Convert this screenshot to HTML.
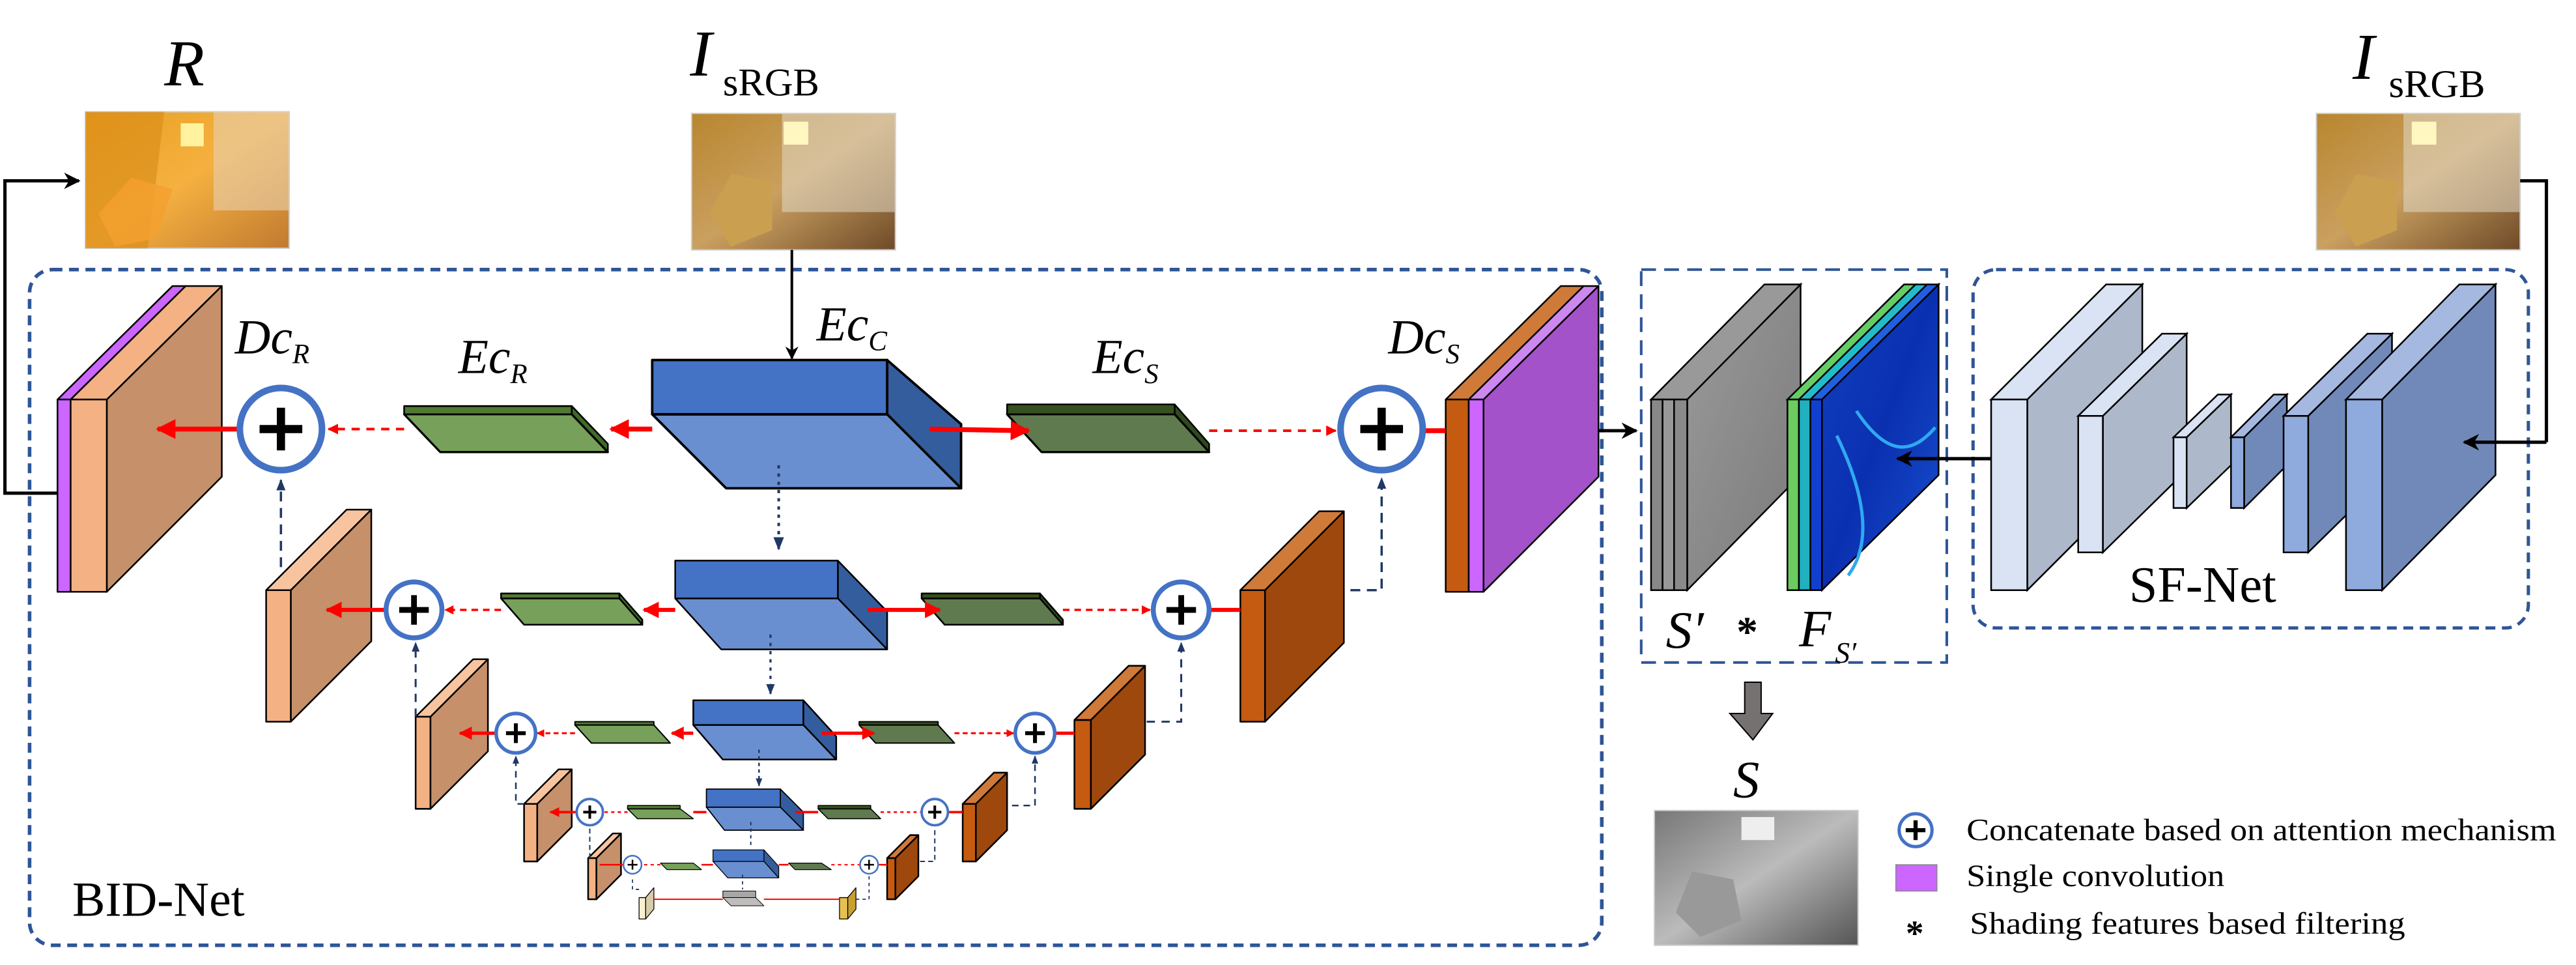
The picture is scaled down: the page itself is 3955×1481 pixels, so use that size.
<!DOCTYPE html>
<html><head><meta charset="utf-8"><style>
html,body{margin:0;padding:0;background:#fff;}
svg{display:block;}
svg text{font-family:"Liberation Serif","Times New Roman",serif;}
</style></head><body>
<svg width="3955" height="1481" viewBox="0 0 1568 587" preserveAspectRatio="none" xmlns="http://www.w3.org/2000/svg" font-family="Liberation Serif, serif">
<defs>
<marker id="ra" viewBox="0 0 10 10" refX="9" refY="5" markerWidth="4" markerHeight="4" orient="auto-start-reverse"><path d="M0,0 L10,5 L0,10 z" fill="#ff0000"/></marker>
<marker id="ba" viewBox="0 0 10 10" refX="9" refY="5" markerWidth="5" markerHeight="5" orient="auto"><path d="M0,0 L10,5 L0,10 L3,5 z" fill="#000"/></marker>
<marker id="na" viewBox="0 0 10 10" refX="9" refY="5" markerWidth="5" markerHeight="5" orient="auto"><path d="M0,1 L10,5 L0,9 z" fill="#203864"/></marker>
<linearGradient id="gR" x1="0" y1="0" x2="1" y2="1"><stop offset="0" stop-color="#e8a020"/><stop offset="0.5" stop-color="#f5b040"/><stop offset="1" stop-color="#c07a30"/></linearGradient>
<linearGradient id="gI" x1="0" y1="0" x2="1" y2="1"><stop offset="0" stop-color="#b8862e"/><stop offset="0.5" stop-color="#caa060"/><stop offset="1" stop-color="#6e4a28"/></linearGradient>
<linearGradient id="gS" x1="0" y1="0" x2="1" y2="1"><stop offset="0" stop-color="#777"/><stop offset="0.5" stop-color="#bbb"/><stop offset="1" stop-color="#555"/></linearGradient>
<linearGradient id="gF" x1="0" y1="0" x2="1" y2="1"><stop offset="0" stop-color="#1040c0"/><stop offset="0.5" stop-color="#0a30b0"/><stop offset="1" stop-color="#1850d0"/></linearGradient>
<linearGradient id="gSp" x1="0" y1="0" x2="1" y2="1"><stop offset="0" stop-color="#9a9a9a"/><stop offset="1" stop-color="#7a7a7a"/></linearGradient>
</defs>

<!-- Top labels -->
<text x="100" y="52" font-size="40" font-style="italic">R</text>
<text x="420" y="46" font-size="40" font-style="italic">I</text>
<text x="440" y="58" font-size="24">sRGB</text>
<text x="1432" y="48" font-size="40" font-style="italic">I</text>
<text x="1454" y="59" font-size="24">sRGB</text>

<!-- Images -->
<rect x="52" y="68" width="124" height="83" fill="url(#gR)" stroke="#ccc" stroke-width="0.8"/>
<path d="M52,68 L100,68 L90,151 L52,151z" fill="#d88a18" opacity="0.6"/>
<path d="M60,130 L80,108 L105,115 L95,145 L70,150z" fill="#f4a030" opacity="0.8"/>
<rect x="110" y="75" width="14" height="14" fill="#fff3a0"/>
<rect x="130" y="68" width="46" height="60" fill="#e8d0b0" opacity="0.6"/>
<rect x="421" y="69" width="124" height="83" fill="url(#gI)" stroke="#ccc" stroke-width="0.8"/>
<rect x="476" y="69" width="69" height="60" fill="#e0d8c8" opacity="0.55"/>
<rect x="477" y="74" width="15" height="14" fill="#fff6c0"/>
<path d="M432,130 L445,106 L470,110 L470,140 L445,150z" fill="#caa050"/>
<rect x="1410" y="69" width="124" height="83" fill="url(#gI)" stroke="#ccc" stroke-width="0.8"/>
<rect x="1463" y="69" width="71" height="60" fill="#e0d8c8" opacity="0.55"/>
<rect x="1468" y="74" width="15" height="14" fill="#fff6c0"/>
<path d="M1421,130 L1434,106 L1459,110 L1459,140 L1434,150z" fill="#caa050"/>

<!-- Dashed boxes -->
<rect x="18" y="164" width="957" height="411" rx="14" fill="none" stroke="#2f5597" stroke-width="2.2" stroke-dasharray="6,4"/>
<rect x="999" y="164" width="186" height="239" fill="none" stroke="#2f5597" stroke-width="1.6" stroke-dasharray="9,5"/>
<rect x="1201" y="164" width="338" height="218" rx="14" fill="none" stroke="#2f5597" stroke-width="2" stroke-dasharray="6,4"/>

<!-- Black connectors -->
<path d="M35,300 L3,300 L3,110 L48,110" fill="none" stroke="#000" stroke-width="2" marker-end="url(#ba)"/>
<path d="M482,152 L482,218" fill="none" stroke="#000" stroke-width="1.6" marker-end="url(#ba)"/>
<path d="M945,262 L996,262" fill="none" stroke="#000" stroke-width="2" marker-end="url(#ba)"/>
<path d="M1534,110 L1550,110 L1550,269" fill="none" stroke="#000" stroke-width="2"/>

<g stroke="#000" stroke-width="1" stroke-linejoin="round">
<!-- DcR -->
<path d="M65,243 L135,174 L135,290 L65,360z" fill="#c5906a"/>
<path d="M35,243 L105,174 L113,174 L43,243z" fill="#cc66ff"/>
<path d="M43,243 L113,174 L135,174 L65,243z" fill="#f4b183"/>
<rect x="35" y="243" width="8" height="117" fill="#cc66ff"/>
<rect x="43" y="243" width="22" height="117" fill="#f4b183"/>
<!-- L2 left -->
<path d="M177,359 L226,310 L226,390 L177,439z" fill="#c5906a"/>
<path d="M162,359 L211,310 L226,310 L177,359z" fill="#f8c4a0"/>
<rect x="162" y="359" width="15" height="80" fill="#f4b183"/>
<!-- L3 left -->
<path d="M262,436 L297,401 L297,457 L262,492z" fill="#c5906a"/>
<path d="M253,436 L288,401 L297,401 L262,436z" fill="#f8c4a0"/>
<rect x="253" y="436" width="9" height="56" fill="#f4b183"/>
<!-- L4 left -->
<path d="M327,489 L348,468 L348,503 L327,524z" fill="#c5906a"/>
<path d="M319,489 L340,468 L348,468 L327,489z" fill="#f8c4a0"/>
<rect x="319" y="489" width="8" height="35" fill="#f4b183"/>
<!-- L5 left -->
<path d="M363,522 L378,507 L378,532 L363,547z" fill="#c5906a"/>
<path d="M358,522 L373,507 L378,507 L363,522z" fill="#f8c4a0"/>
<rect x="358" y="522" width="5" height="25" fill="#f4b183"/>
<!-- L6 left -->
<path d="M393,546 L398,540 L398,553 L393,559z" fill="#d8ccaa" stroke-width="0.5"/>
<rect x="389" y="546" width="4" height="13" fill="#f8f0d0" stroke-width="0.5"/>

<!-- DcS -->
<path d="M903,243 L973,174 L973,290 L903,360z" fill="#a352c9"/>
<path d="M880,243 L950,174 L964,174 L894,243z" fill="#d07a3a"/>
<path d="M894,243 L964,174 L973,174 L903,243z" fill="#cc88ee"/>
<rect x="880" y="243" width="14" height="117" fill="#c55a11"/>
<rect x="894" y="243" width="9" height="117" fill="#cc66ff"/>
<!-- L2 right -->
<path d="M770,359 L818,311 L818,391 L770,439z" fill="#9e480e"/>
<path d="M755,359 L803,311 L818,311 L770,359z" fill="#d07a3a"/>
<rect x="755" y="359" width="15" height="80" fill="#c55a11"/>
<!-- L3 right -->
<path d="M664,438 L697,405 L697,459 L664,492z" fill="#9e480e"/>
<path d="M654,438 L687,405 L697,405 L664,438z" fill="#d07a3a"/>
<rect x="654" y="438" width="10" height="54" fill="#c55a11"/>
<!-- L4 right -->
<path d="M594,489 L613,470 L613,505 L594,524z" fill="#9e480e"/>
<path d="M586,489 L605,470 L613,470 L594,489z" fill="#d07a3a"/>
<rect x="586" y="489" width="8" height="35" fill="#c55a11"/>
<!-- L5 right -->
<path d="M545,522 L559,508 L559,533 L545,547z" fill="#9e480e"/>
<path d="M540,522 L554,508 L559,508 L545,522z" fill="#d07a3a"/>
<rect x="540" y="522" width="5" height="25" fill="#c55a11"/>
<!-- L6 right -->
<path d="M516,546 L521,540 L521,553 L516,559z" fill="#c8a030" stroke-width="0.5"/>
<rect x="511" y="546" width="5" height="13" fill="#e6c050" stroke-width="0.5"/>

<!-- Blue boxes -->
<path d="M540,219 L585,258 L585,297 L540,252z" fill="#345d9e" stroke-width="1.5"/>
<path d="M397,252 L540,252 L585,297 L442,297z" fill="#6a8fd0" stroke-width="1.5"/>
<rect x="397" y="219" width="143" height="33" fill="#4472c4" stroke-width="1.5"/>
<path d="M510,341 L540,372 L540,395 L510,364z" fill="#345d9e"/>
<path d="M411,364 L510,364 L540,395 L439,395z" fill="#6a8fd0"/>
<rect x="411" y="341" width="99" height="23" fill="#4472c4"/>
<path d="M489,426 L509,448 L509,462 L489,441z" fill="#345d9e"/>
<path d="M422,441 L489,441 L509,462 L440,462z" fill="#6a8fd0"/>
<rect x="422" y="426" width="67" height="15" fill="#4472c4"/>
<path d="M475,480 L489,494 L489,505 L475,491z" fill="#345d9e" stroke-width="0.7"/>
<path d="M430,491 L475,491 L489,505 L441,505z" fill="#6a8fd0" stroke-width="0.7"/>
<rect x="430" y="480" width="45" height="11" fill="#4472c4" stroke-width="0.7"/>
<path d="M465,517 L474,527 L474,534 L465,524z" fill="#345d9e" stroke-width="0.5"/>
<path d="M434,524 L465,524 L474,534 L443,534z" fill="#6a8fd0" stroke-width="0.5"/>
<rect x="434" y="517" width="31" height="7" fill="#4472c4" stroke-width="0.5"/>
<path d="M440,546 L460,546 L465,551 L445,551z" fill="#c0bcbc" stroke-width="0.4"/>
<rect x="440" y="542" width="20" height="4" fill="#a8a6a6" stroke-width="0.4"/>

<!-- Slabs left -->
<path d="M348,247 L370,270 L370,275 L348,252z" fill="#3e6b28"/>
<path d="M246,252 L348,252 L370,275 L268,275z" fill="#77a05a" stroke-width="1.3"/>
<rect x="246" y="247" width="102" height="5" fill="#4f7a32"/>
<path d="M377,361 L391,377 L391,380 L377,364z" fill="#3e6b28"/>
<path d="M305,364 L377,364 L391,380 L319,380z" fill="#77a05a"/>
<rect x="305" y="361" width="72" height="3" fill="#4f7a32"/>
<path d="M350,441 L398,441 L408,452 L360,452z" fill="#77a05a" stroke-width="0.8"/>
<rect x="350" y="439" width="48" height="2" fill="#4f7a32" stroke-width="0.8"/>
<path d="M382,492 L414,492 L422,498 L388,498z" fill="#77a05a" stroke-width="0.6"/>
<rect x="382" y="490" width="32" height="2" fill="#4f7a32" stroke-width="0.6"/>
<path d="M402,525 L422,525 L427,529 L406,529z" fill="#77a05a" stroke-width="0.5"/>
<!-- Slabs right -->
<path d="M715,246 L736,270 L736,275 L715,252z" fill="#2e4a1e"/>
<path d="M613,252 L715,252 L736,275 L634,275z" fill="#5f7a4f" stroke-width="1.3"/>
<rect x="613" y="246" width="102" height="6" fill="#34501f"/>
<path d="M633,361 L647,377 L647,380 L633,364z" fill="#2e4a1e"/>
<path d="M561,364 L633,364 L647,380 L575,380z" fill="#5f7a4f"/>
<rect x="561" y="361" width="72" height="3" fill="#34501f"/>
<path d="M523,441 L571,441 L581,452 L533,452z" fill="#5f7a4f" stroke-width="0.8"/>
<rect x="523" y="439" width="48" height="2" fill="#34501f" stroke-width="0.8"/>
<path d="M498,492 L530,492 L536,498 L504,498z" fill="#5f7a4f" stroke-width="0.6"/>
<rect x="498" y="490" width="32" height="2" fill="#34501f" stroke-width="0.6"/>
<path d="M480,525 L500,525 L506,529 L484,529z" fill="#5f7a4f" stroke-width="0.5"/>
</g>

<!-- Red arrows -->
<g stroke="#ff0000" fill="none">
<path d="M397,261 L372,261" stroke-width="3" marker-end="url(#ra)"/>
<path d="M246,261 L200,261" stroke-width="1.6" stroke-dasharray="5,4" marker-end="url(#ra)"/>
<path d="M145,261 L96,261" stroke-width="3" marker-end="url(#ra)"/>
<path d="M566,261 L626,262" stroke-width="3" marker-end="url(#ra)"/>
<path d="M736,262 L813,262" stroke-width="1.6" stroke-dasharray="5,4" marker-end="url(#ra)"/>
<path d="M867,262 L880,262" stroke-width="3"/>
<path d="M411,371 L392,371" stroke-width="2.5" marker-end="url(#ra)"/>
<path d="M305,371 L271,371" stroke-width="1.4" stroke-dasharray="4,3" marker-end="url(#ra)"/>
<path d="M234,371 L199,371" stroke-width="2.5" marker-end="url(#ra)"/>
<path d="M528,371 L572,371" stroke-width="2.5" marker-end="url(#ra)"/>
<path d="M647,371 L700,371" stroke-width="1.4" stroke-dasharray="4,3" marker-end="url(#ra)"/>
<path d="M737,371 L755,371" stroke-width="2.5"/>
<path d="M422,446 L409,446" stroke-width="2" marker-end="url(#ra)"/>
<path d="M350,446 L327,446" stroke-width="1.2" stroke-dasharray="3,2" marker-end="url(#ra)"/>
<path d="M302,446 L280,446" stroke-width="2" marker-end="url(#ra)"/>
<path d="M500,446 L532,446" stroke-width="2" marker-end="url(#ra)"/>
<path d="M581,446 L617,446" stroke-width="1.2" stroke-dasharray="3,2" marker-end="url(#ra)"/>
<path d="M642,446 L654,446" stroke-width="2"/>
<path d="M430,494 L422,494" stroke-width="1.5"/>
<path d="M382,494 L368,494" stroke-width="1" stroke-dasharray="2,2"/>
<path d="M351,494 L335,494" stroke-width="1.5" marker-end="url(#ra)"/>
<path d="M484,494 L498,494" stroke-width="1.5"/>
<path d="M536,494 L561,494" stroke-width="1" stroke-dasharray="2,2"/>
<path d="M577,494 L586,494" stroke-width="1.5"/>
<path d="M434,526 L427,526" stroke-width="1"/>
<path d="M402,526 L391,526" stroke-width="0.8" stroke-dasharray="2,2"/>
<path d="M379,526 L365,526" stroke-width="1"/>
<path d="M474,526 L480,526" stroke-width="1"/>
<path d="M506,526 L523,526" stroke-width="0.8" stroke-dasharray="2,2"/>
<path d="M535,526 L540,526" stroke-width="1"/>
<path d="M398,547 L440,547 M465,547 L511,547" stroke-width="0.8"/>
</g>

<!-- Navy connectors -->
<g stroke="#203864" fill="none">
<path d="M474,283 L474,334" stroke-width="1.6" stroke-dasharray="2,3" marker-end="url(#na)"/>
<path d="M469,386 L469,422" stroke-width="1.3" stroke-dasharray="2,3" marker-end="url(#na)"/>
<path d="M462,456 L462,478" stroke-width="1" stroke-dasharray="2,2" marker-end="url(#na)"/>
<path d="M457,500 L457,515" stroke-width="0.8" stroke-dasharray="2,2"/>
<path d="M452,532 L452,541" stroke-width="0.7" stroke-dasharray="2,2"/>
<path d="M171,345 L171,292" stroke-width="1.4" stroke-dasharray="6,4" marker-end="url(#na)"/>
<path d="M253,436 L253,391" stroke-width="1.2" stroke-dasharray="5,4" marker-end="url(#na)"/>
<path d="M319,489 L314,489 L314,460" stroke-width="1" stroke-dasharray="4,3" marker-end="url(#na)"/>
<path d="M359,522 L359,503" stroke-width="0.8" stroke-dasharray="3,2"/>
<path d="M389,541 L385,541 L385,533" stroke-width="0.7" stroke-dasharray="2,2"/>
<path d="M822,359 L841,359 L841,291" stroke-width="1.4" stroke-dasharray="6,4" marker-end="url(#na)"/>
<path d="M698,439 L719,439 L719,391" stroke-width="1.2" stroke-dasharray="5,4" marker-end="url(#na)"/>
<path d="M616,490 L630,490 L630,460" stroke-width="1" stroke-dasharray="4,3" marker-end="url(#na)"/>
<path d="M560,524 L569,524 L569,503" stroke-width="0.8" stroke-dasharray="3,2"/>
<path d="M521,547 L529,547 L529,533" stroke-width="0.7" stroke-dasharray="2,2"/>
</g>

<!-- Plus circles -->
<g fill="#fff" stroke="#4472c4">
<circle cx="171" cy="261" r="25" stroke-width="4"/>
<circle cx="841" cy="261" r="25" stroke-width="4"/>
<circle cx="252" cy="371" r="17" stroke-width="3"/>
<circle cx="719" cy="371" r="17" stroke-width="3"/>
<circle cx="314" cy="446" r="12" stroke-width="2.2"/>
<circle cx="630" cy="446" r="12" stroke-width="2.2"/>
<circle cx="359" cy="494" r="8" stroke-width="1.5"/>
<circle cx="569" cy="494" r="8" stroke-width="1.5"/>
<circle cx="385" cy="526" r="5.5" stroke-width="1"/>
<circle cx="529" cy="526" r="5.5" stroke-width="1"/>
</g>
<g stroke="#000" fill="none">
<path d="M158,261 L184,261 M171,248 L171,274" stroke-width="5"/>
<path d="M828,261 L854,261 M841,248 L841,274" stroke-width="5"/>
<path d="M243,371 L261,371 M252,362 L252,380" stroke-width="3.5"/>
<path d="M710,371 L728,371 M719,362 L719,380" stroke-width="3.5"/>
<path d="M308,446 L320,446 M314,440 L314,452" stroke-width="2.4"/>
<path d="M624,446 L636,446 M630,440 L630,452" stroke-width="2.4"/>
<path d="M355,494 L363,494 M359,490 L359,498" stroke-width="1.6"/>
<path d="M565,494 L573,494 M569,490 L569,498" stroke-width="1.6"/>
<path d="M382,526 L388,526 M385,523 L385,529" stroke-width="1"/>
<path d="M526,526 L532,526 M529,523 L529,529" stroke-width="1"/>
</g>

<!-- BID-Net labels -->
<g font-style="italic" font-size="30">
<text x="143" y="215">Dc<tspan font-size="17" dy="6">R</tspan></text>
<text x="279" y="227">Ec<tspan font-size="17" dy="6">R</tspan></text>
<text x="497" y="207">Ec<tspan font-size="17" dy="6">C</tspan></text>
<text x="665" y="227">Ec<tspan font-size="17" dy="6">S</tspan></text>
<text x="845" y="215">Dc<tspan font-size="17" dy="6">S</tspan></text>
</g>
<text x="44" y="557" font-size="30">BID-Net</text>

<!-- S' and F stacks -->
<g stroke="#000" stroke-width="1">
<path d="M1027,243 L1096,173 L1096,289 L1027,359z" fill="url(#gSp)"/>
<path d="M1005,243 L1074,173 L1096,173 L1027,243z" fill="#999"/>
<rect x="1005" y="243" width="7" height="116" fill="#888"/>
<rect x="1012" y="243" width="7" height="116" fill="#999"/>
<rect x="1019" y="243" width="8" height="116" fill="#8a8a8a"/>
<path d="M1109,243 L1180,173 L1180,289 L1109,359z" fill="url(#gF)"/>
<path d="M1088,243 L1159,173 L1166,173 L1095,243z" fill="#66cc66"/>
<path d="M1095,243 L1166,173 L1173,173 L1102,243z" fill="#22bbcc"/>
<path d="M1102,243 L1173,173 L1180,173 L1109,243z" fill="#2060e0"/>
<rect x="1088" y="243" width="7" height="116" fill="#6ccc60"/>
<rect x="1095" y="243" width="7" height="116" fill="#20b0c0"/>
<rect x="1102" y="243" width="7" height="116" fill="#1040d0"/>
</g>
<path d="M1118,265 C1135,300 1140,330 1125,350 M1130,250 C1150,280 1165,275 1178,260" stroke="#30a8f0" stroke-width="2" fill="none"/>
<path d="M1212,279 L1155,279" fill="none" stroke="#000" stroke-width="2" marker-end="url(#ba)"/>
<text x="1014" y="394" font-size="32" font-style="italic">S′</text>
<text x="1057" y="393" font-size="26" font-weight="bold">*</text>
<text x="1095" y="393" font-size="32" font-style="italic">F</text>
<text x="1117" y="403" font-size="18" font-style="italic">S′</text>
<path d="M1062,415 L1072,415 L1072,434 L1079,434 L1067,450 L1053,434 L1062,434z" fill="#767171" stroke="#000" stroke-width="0.8"/>
<text x="1055" y="485" font-size="32" font-style="italic">S</text>
<rect x="1007" y="493" width="124" height="82" fill="url(#gS)" stroke="#ccc" stroke-width="0.8"/>
<rect x="1060" y="497" width="20" height="14" fill="#eee"/>
<path d="M1020,555 L1030,530 L1055,535 L1060,560 L1035,570z" fill="#999"/>

<!-- Legend -->
<circle cx="1166" cy="505" r="10" fill="#fff" stroke="#4472c4" stroke-width="2"/>
<path d="M1160,505 L1172,505 M1166,499 L1166,511" stroke="#000" stroke-width="2.5"/>
<text x="1197" y="511" font-size="19" textLength="359" lengthAdjust="spacingAndGlyphs">Concatenate based on attention mechanism</text>
<rect x="1154" y="526" width="25" height="16" fill="#cc66ff" stroke="#888" stroke-width="0.6"/>
<text x="1197" y="539" font-size="19" textLength="157" lengthAdjust="spacingAndGlyphs">Single convolution</text>
<text x="1160" y="575" font-size="22" font-weight="bold">*</text>
<text x="1199" y="568" font-size="19" textLength="265" lengthAdjust="spacingAndGlyphs">Shading features based filtering</text>

<!-- SF-Net blocks -->
<g stroke="#000" stroke-width="1">
<path d="M1234,243 L1304,173 L1304,289 L1234,359z" fill="#adb9ca"/>
<path d="M1212,243 L1282,173 L1304,173 L1234,243z" fill="#dae3f3"/>
<rect x="1212" y="243" width="22" height="116" fill="#dae3f3"/>
<path d="M1280,253 L1331,203 L1331,286 L1280,336z" fill="#adb9ca"/>
<path d="M1265,253 L1316,203 L1331,203 L1280,253z" fill="#dae3f3"/>
<rect x="1265" y="253" width="15" height="83" fill="#dae3f3"/>
<path d="M1331,266 L1358,240 L1358,283 L1331,309z" fill="#adb9ca"/>
<path d="M1323,266 L1350,240 L1358,240 L1331,266z" fill="#dae3f3"/>
<rect x="1323" y="266" width="8" height="43" fill="#dae3f3"/>
<path d="M1366,266 L1392,240 L1392,283 L1366,309z" fill="#7189b8"/>
<path d="M1358,266 L1384,240 L1392,240 L1366,266z" fill="#a4b8e0"/>
<rect x="1358" y="266" width="8" height="43" fill="#8faadc"/>
<path d="M1405,253 L1456,203 L1456,286 L1405,336z" fill="#7189b8"/>
<path d="M1390,253 L1441,203 L1456,203 L1405,253z" fill="#a4b8e0"/>
<rect x="1390" y="253" width="15" height="83" fill="#8faadc"/>
<path d="M1450,243 L1519,173 L1519,289 L1450,359z" fill="#7189b8"/>
<path d="M1428,243 L1497,173 L1519,173 L1450,243z" fill="#a4b8e0"/>
<rect x="1428" y="243" width="22" height="116" fill="#8faadc"/>
</g>
<path d="M1550,269 L1500,269" fill="none" stroke="#000" stroke-width="2" marker-end="url(#ba)"/>
<text x="1296" y="366" font-size="31">SF-Net</text>
</svg>
</body></html>
